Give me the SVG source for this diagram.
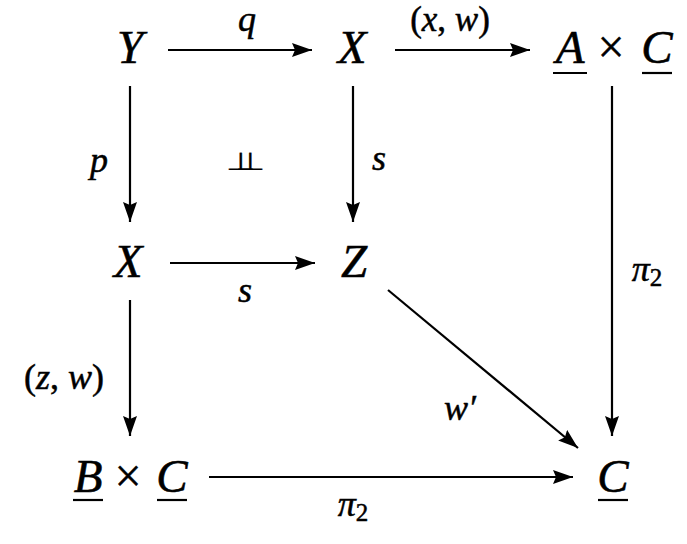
<svg xmlns="http://www.w3.org/2000/svg" width="687" height="544" viewBox="0 0 687 544">
<style>
.n{font-family:"Liberation Serif","DejaVu Serif",serif;font-style:italic;font-size:47px;fill:#000;stroke:#000;stroke-width:0.6;text-anchor:middle}
.op{font-family:"Liberation Serif","DejaVu Serif",serif;font-style:normal;font-size:48px;fill:#000;stroke:#000;stroke-width:0.4;text-anchor:middle}
.l{font-family:"Liberation Serif","DejaVu Serif",serif;font-style:italic;font-size:36px;fill:#000;stroke:#000;stroke-width:0.5;text-anchor:middle}
.tack{font-family:"DejaVu Sans",sans-serif;font-size:34px;fill:#000;stroke:#000;stroke-width:0.3;letter-spacing:-20px}
.up{font-style:normal}
.sub{font-style:normal;font-size:25px}
.ul{stroke:#000;stroke-width:2.2}
.e{stroke:#000;stroke-width:2.2;fill:none;marker-end:url(#ah)}
</style>
<defs>
<marker id="ah" markerUnits="userSpaceOnUse" markerWidth="22" markerHeight="16" refX="20" refY="7" orient="auto" viewBox="0 0 22 16">
<path d="M0,0 L20,7 L0,14 L3,7 Z" fill="#000"/>
</marker>
</defs>
<rect width="687" height="544" fill="#fff"/>
<g id="connectors">
<line class="e" x1="168" y1="50" x2="312" y2="50"/>
<line class="e" x1="395" y1="50" x2="530" y2="50"/>
<line class="e" x1="130" y1="86" x2="130" y2="222"/>
<line class="e" x1="353" y1="86" x2="353" y2="222"/>
<line class="e" x1="612" y1="86" x2="612" y2="436"/>
<line class="e" x1="170" y1="263" x2="315" y2="263"/>
<line class="e" x1="130" y1="300" x2="130" y2="436"/>
<line class="e" x1="388" y1="290" x2="578" y2="448"/>
<line class="e" x1="209" y1="477" x2="573" y2="477"/>
<g id="labels">
<text class="l" x="247" y="31">q</text>
<text class="l" x="450" y="31" style="font-size:35px"><tspan class="up">(</tspan>x<tspan class="up">,</tspan> w<tspan class="up">)</tspan></text>
<text class="l" x="99" y="172">p</text>
<text class="tack" transform="translate(226 170) scale(1 0.72)" x="0" y="0">⊥⊥</text>
<text class="l" x="379" y="170">s</text>
<text class="l" x="245" y="302">s</text>
<text class="l" x="647" y="281">π<tspan class="sub" dy="5">2</tspan></text>
<text class="l" x="64" y="389"><tspan class="up">(</tspan>z<tspan class="up">,</tspan> w<tspan class="up">)</tspan></text>
<text class="l" x="460" y="420">w′</text>
<text class="l" x="353" y="516">π<tspan class="sub" dy="5">2</tspan></text>
</g>
</g>
<g id="node-Y"><text class="n" x="130" y="63">Y</text></g>
<g id="node-X-top"><text class="n" x="352" y="63">X</text></g>
<g id="node-AxC">
<text class="n" x="570" y="63">A</text>
<text class="op" x="611" y="63">×</text>
<text class="n" x="657" y="63">C</text>
<line class="ul" x1="553" y1="73" x2="587" y2="73"/>
<line class="ul" x1="642" y1="73" x2="672" y2="73"/>
</g>
<g id="node-X-mid"><text class="n" x="128" y="277">X</text></g>
<g id="node-Z"><text class="n" x="354" y="277">Z</text></g>
<g id="node-BxC">
<text class="n" x="88" y="492">B</text>
<text class="op" x="128" y="492">×</text>
<text class="n" x="172" y="492">C</text>
<line class="ul" x1="73" y1="500" x2="103" y2="500"/>
<line class="ul" x1="157" y1="500" x2="187" y2="500"/>
</g>
<g id="node-C"><text class="n" x="613" y="492">C</text>
<line class="ul" x1="598" y1="500" x2="628" y2="500"/>
</g>
</svg>
